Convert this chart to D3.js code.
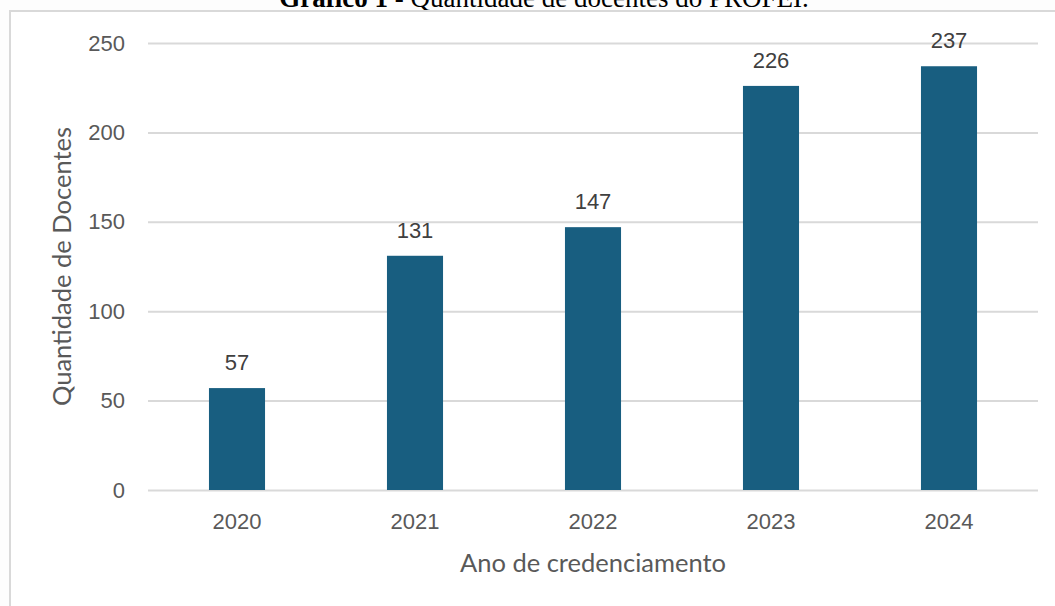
<!DOCTYPE html>
<html>
<head>
<meta charset="utf-8">
<script src="https://cdn.jsdelivr.net/npm/d3@7"></script>
<style>
    body { margin: 0; background: #fdfdfd; }
    svg { display: block; }
</style>
</head>
<body>
<svg id="chart" width="1055" height="606"></svg>
<script>
// data
const years = ['2020', '2021', '2022', '2023', '2024'];
const docentes = [57, 131, 147, 226, 237];
const yTicks = [0, 50, 100, 150, 200, 250];

const svg = d3.select('#chart');
const width = 1055;
const height = 606;

const plot = { left: 148, right: 1038, top: 43, bottom: 490 };

// page title, cut off at the top edge
const title = svg.append('text')
    .attr('x', 544)
    .attr('y', 7)
    .attr('text-anchor', 'middle')
    .style('font-family', '"Liberation Serif", "Times New Roman", serif')
    .style('font-size', '27px')
    .style('fill', '#000');
title.append('tspan').style('font-weight', 'bold').text('Gráfico 1');
title.append('tspan').text(' - Quantidade de docentes do PROFEI.');

// chart frame
svg.append('rect')
    .attr('x', 10)
    .attr('y', 11)
    .attr('width', width)
    .attr('height', height)
    .attr('fill', '#fff')
    .attr('stroke', '#d9d9d9')
    .attr('stroke-width', 2);

const x = d3.scaleBand()
    .domain(years)
    .range([plot.left, plot.right])
    .paddingInner(0.685)
    .paddingOuter(0.3425);

const y = d3.scaleLinear()
    .domain([0, 250])
    .range([plot.bottom, plot.top]);

// gridlines + y tick labels
const yAxis = svg.append('g')
    .attr('transform', `translate(${plot.left},0)`)
    .call(d3.axisLeft(y).tickValues(yTicks).tickSize(-(plot.right - plot.left)).tickPadding(23));
yAxis.select('.domain').remove();
yAxis.selectAll('.tick line').attr('stroke', '#d9d9d9').attr('stroke-width', 2);
yAxis.selectAll('.tick text')
    .style('font-family', '"Liberation Sans", Arial, sans-serif')
    .style('font-size', '22px')
    .style('fill', '#595959');

// x tick labels
const xAxis = svg.append('g')
    .attr('transform', `translate(0,${plot.bottom})`)
    .call(d3.axisBottom(x).tickSize(0).tickPadding(23));
xAxis.select('.domain').remove();
xAxis.selectAll('.tick text')
    .style('font-family', '"Liberation Sans", Arial, sans-serif')
    .style('font-size', '22px')
    .style('fill', '#595959');

// bars
svg.selectAll('rect.bar')
    .data(docentes)
    .enter()
    .append('rect')
    .attr('class', 'bar')
    .attr('x', (d, i) => x(years[i]))
    .attr('y', d => y(d))
    .attr('width', x.bandwidth())
    .attr('height', d => y(0) - y(d))
    .attr('fill', '#185e80');

// value labels
svg.selectAll('text.value')
    .data(docentes)
    .enter()
    .append('text')
    .attr('class', 'value')
    .attr('x', (d, i) => x(years[i]) + x.bandwidth() / 2)
    .attr('y', d => y(d) - 18)
    .attr('text-anchor', 'middle')
    .style('font-family', '"Liberation Sans", Arial, sans-serif')
    .style('font-size', '22px')
    .style('fill', '#404040')
    .text(d => d);

// axis titles
svg.append('text')
    .attr('x', (plot.left + plot.right) / 2)
    .attr('y', 572)
    .attr('text-anchor', 'middle')
    .style('font-family', 'Lato, "Noto Sans", sans-serif')
    .style('font-size', '25.5px')
    .style('fill', '#595959')
    .text('Ano de credenciamento');

svg.append('text')
    .attr('transform', `translate(71,${(plot.top + plot.bottom) / 2}) rotate(-90)`)
    .attr('text-anchor', 'middle')
    .style('font-family', 'Lato, "Noto Sans", sans-serif')
    .style('font-size', '25.5px')
    .style('fill', '#595959')
    .text('Quantidade de Docentes');
</script>
</body>
</html>
